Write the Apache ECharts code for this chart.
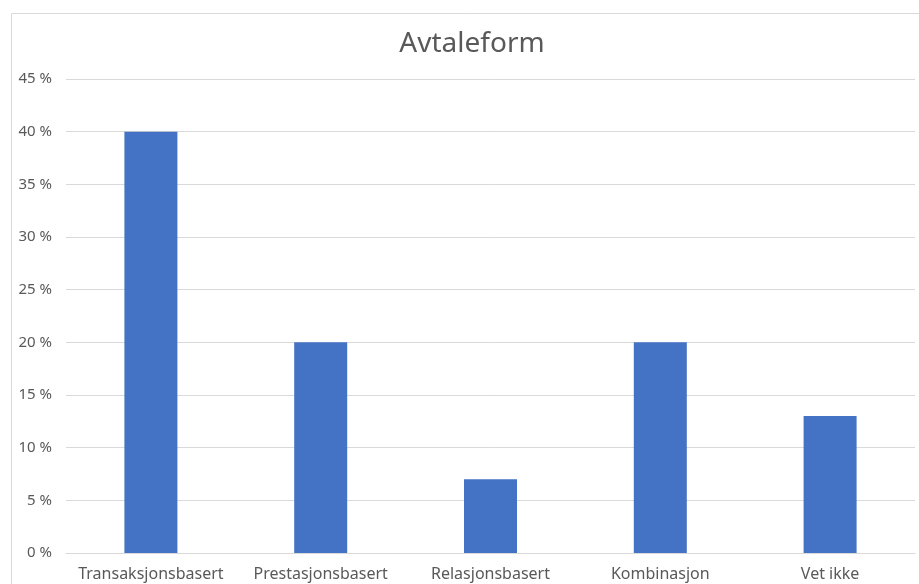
<!DOCTYPE html>
<html>
<head>
<meta charset="utf-8">
<script src="https://cdn.jsdelivr.net/npm/echarts@6/dist/echarts.min.js"></script>
<style>
  html, body { margin: 0; padding: 0; background: #ffffff; }
  #chart { width: 919px; height: 584px; }
</style>
</head>
<body>
<div id="chart"></div>
<script>
// data
const categories = ['Transaksjonsbasert', 'Prestasjonsbasert', 'Relasjonsbasert', 'Kombinasjon', 'Vet ikke'];
const shares = [40, 20, 7, 20, 13];

const font = '"Noto Sans", "Open Sans", sans-serif';
let chart = echarts.init(document.getElementById('chart'));
chart.setOption({
  animation: false,
  title: {
    text: 'Avtaleform',
    left: 467,
    textAlign: 'center',
    top: 25,
    textStyle: { fontFamily: font, fontSize: 28, fontWeight: 'normal', color: '#595959' }
  },
  graphic: [{
    type: 'rect',
    shape: { x: 11.5, y: 13.5, width: 940, height: 600 },
    style: { fill: 'none', stroke: '#d9d9d9', lineWidth: 1 },
    silent: true
  }],
  grid: { left: 66, right: 4, top: 79, bottom: 31 },
  xAxis: {
    type: 'category',
    data: categories,
    axisTick: { show: false },
    axisLine: { lineStyle: { color: '#d9d9d9', width: 1 } },
    axisLabel: { fontFamily: font, fontSize: 16, color: '#595959', margin: 13, interval: 0 }
  },
  yAxis: {
    type: 'value',
    min: 0,
    max: 45,
    interval: 5,
    axisLine: { show: false },
    axisTick: { show: false },
    splitLine: { lineStyle: { color: '#d9d9d9', width: 1 } },
    axisLabel: { fontFamily: font, fontSize: 15, color: '#595959', margin: 14, formatter: '{value} %' }
  },
  series: [{
    type: 'bar',
    data: shares,
    barWidth: 53,
    itemStyle: { color: '#4472c4' }
  }]
});
</script>
</body>
</html>
